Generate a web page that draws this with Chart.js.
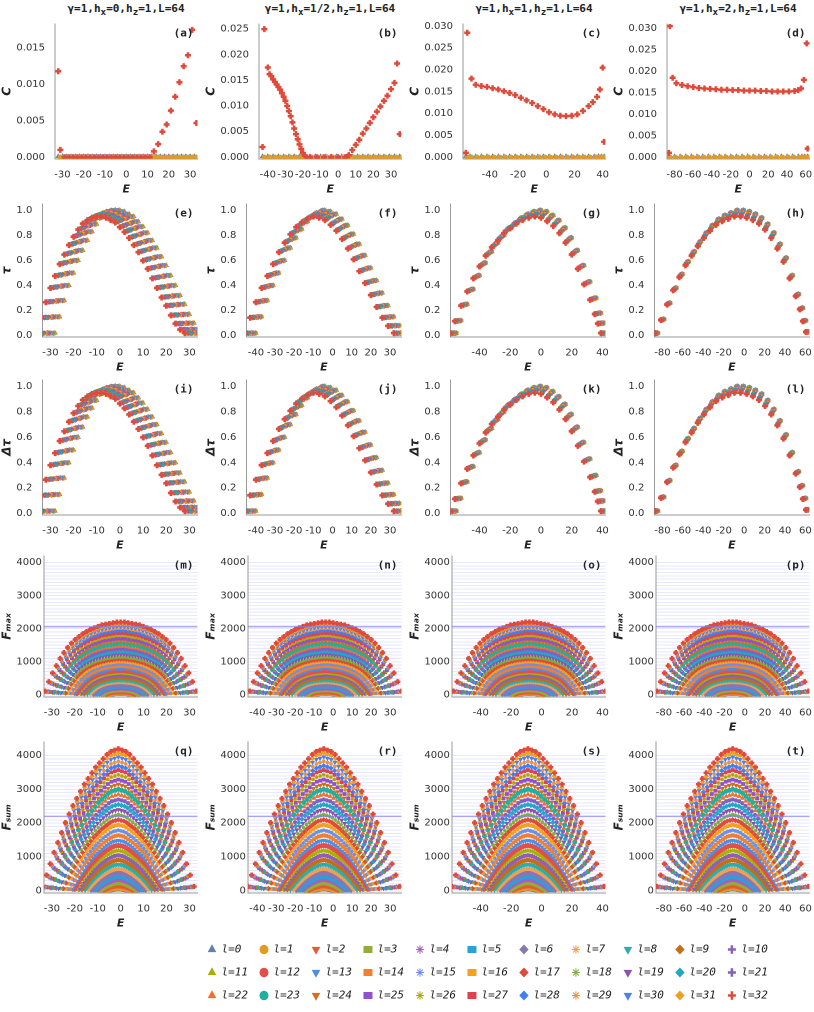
<!DOCTYPE html>
<html><head><meta charset="utf-8">
<script src="https://cdn.jsdelivr.net/npm/chart.js@4"></script>
<style>
body{margin:0;background:#fff;width:814px;height:1012px;position:relative;overflow:hidden;font-family:"DejaVu Sans",sans-serif}
canvas{position:absolute}
.ttl{position:absolute;top:2px;width:204px;text-align:center;font:bold 11px "DejaVu Sans Mono",monospace;color:#222}
</style></head><body>
<div class="ttl" style="left:24px">γ=1,h<sub>x</sub>=0,h<sub>z</sub>=1,L=64</div>
<div class="ttl" style="left:228px">γ=1,h<sub>x</sub>=1/2,h<sub>z</sub>=1,L=64</div>
<div class="ttl" style="left:432px">γ=1,h<sub>x</sub>=1,h<sub>z</sub>=1,L=64</div>
<div class="ttl" style="left:636px">γ=1,h<sub>x</sub>=2,h<sub>z</sub>=1,L=64</div>
<script>
// series labels and marker look
const lLabels = Array.from({length: 33}, (_, i) => "l=" + i);
const colors = ["#5E81B5","#E19C24","#E8583A","#8FB032","#A55FC0","#2E9FD8","#8778B3","#F0A050","#2AAFB0","#C56E1A","#8E5FB8",
  "#A8B000","#E0504A","#4A8FE8","#F08030","#6B8FE8","#F4A020","#E04A3A","#7CB040","#9050B0","#20A8C8","#8060C0",
  "#F07030","#20B0A0","#D07020","#9050D0","#B0A800","#E04050","#4080F0","#F09040","#5080F0","#F0A020","#E04A3A"];
const shapes = ["triangle","circle","triangle","rect","star","rect","rectRot","star","triangle","rectRot","cross"];
const rotations = [0,0,180,0,0,0,0,0,180,0,0];

// axes per column
const xMin = [-33.5, -45, -59, -88];
const xMax = [33.5, 36, 42, 64];
const xStep = [10, 10, 20, 20];
const cMax = [0.0183, 0.026, 0.0305, 0.031];
const panelNames = "abcdefghijklmnopqrst".split("");

// correlation C: red series (l=32)
const cRedE = [
  [-32,-31,-29,-27,-25,-23,-21,-19,-17,-15,-13,-11,-9,-7,-5,-3,-1,1,3,5,7,9,11,13,15,17,19,21,23,25,27,29,31,33],
  [-43,-42,-40,-39,-38,-37,-36,-35,-34,-33,-32,-31,-30,-29,-28,-27,-26,-25,-24,-23,-22,-21,-20,-19,-18,-16,-12,-8,-4,0,4,6,8,10,12,14,16,18,20,22,24,26,28,30,32,33.5,35],
  [-57,-56,-53,-50,-46,-42,-38,-34,-30,-26,-22,-18,-14,-10,-6,-2,2,6,10,14,18,22,26,30,33,36,38,40,41],
  [-86,-85,-82,-78,-72,-66,-60,-54,-48,-42,-36,-30,-24,-18,-12,-6,0,6,12,18,24,30,36,42,48,52,55,58,61,62]
];
const cRedV = [
  [0.0118,0.001,0,0,0,0,0,0,0,0,0,0,0,0,0,0,0,0,0,0,0,0,0,0.0008,0.0018,0.0035,0.0045,0.0064,0.0083,0.0103,0.0125,0.014,0.0175,0.0047],
  [0.002,0.025,0.0175,0.0162,0.0158,0.0152,0.0147,0.0142,0.0137,0.0132,0.0125,0.0118,0.011,0.01,0.009,0.008,0.0068,0.0056,0.0045,0.0035,0.0025,0.0016,0.0008,0.0003,0,0,0,0,0,0,0,0.0004,0.0014,0.0024,0.0034,0.0046,0.0056,0.0067,0.0078,0.0089,0.0099,0.011,0.012,0.0133,0.0145,0.0183,0.0045],
  [0.001,0.0285,0.018,0.0166,0.0163,0.0161,0.0158,0.0155,0.0151,0.0147,0.0142,0.0136,0.013,0.0124,0.0117,0.011,0.0103,0.0098,0.0095,0.0094,0.0095,0.0098,0.0106,0.0117,0.0126,0.0138,0.0155,0.0205,0.0035],
  [0.001,0.0305,0.0185,0.0172,0.0168,0.0165,0.0163,0.0161,0.016,0.0159,0.0158,0.0157,0.0157,0.0156,0.0156,0.0155,0.0155,0.0155,0.0154,0.0154,0.0153,0.0153,0.0153,0.0153,0.0154,0.0156,0.016,0.018,0.0265,0.002]
];

// tau base curves per column
const tauE = [
  [-32,-30,-28,-26,-24,-22,-20,-18,-16,-14,-12,-10,-8,-6,-4,-2,0,2,4,6,8,10,12,14,16,18,20,22,24,26,28,30,32],
  [-43,-40,-37,-34,-31,-28,-25,-22,-19,-16,-13,-10,-7,-4,-1,2,5,8,11,14,17,20,23,26,29,32,35],
  [-57,-54,-50,-46,-42,-38,-34,-30,-26,-22,-18,-14,-10,-6,-2,2,6,10,14,18,22,26,30,34,37,39,41],
  [-86,-80,-74,-68,-62,-56,-50,-44,-38,-32,-26,-20,-14,-8,-2,4,10,16,22,28,34,40,46,52,56,59,62]
];
const tauV = [
  [0.02,0.15,0.28,0.4,0.5,0.6,0.68,0.76,0.83,0.89,0.94,0.97,0.99,1.0,1.0,0.99,0.97,0.95,0.91,0.87,0.82,0.76,0.7,0.63,0.56,0.48,0.4,0.32,0.25,0.17,0.1,0.05,0.02],
  [0.02,0.15,0.28,0.4,0.5,0.6,0.7,0.78,0.85,0.91,0.95,0.98,1.0,0.99,0.97,0.93,0.88,0.81,0.73,0.64,0.54,0.44,0.34,0.24,0.15,0.08,0.02],
  [0.02,0.12,0.25,0.37,0.48,0.58,0.67,0.74,0.8,0.86,0.9,0.94,0.97,0.99,1.0,0.99,0.96,0.92,0.86,0.78,0.68,0.56,0.43,0.3,0.18,0.1,0.02],
  [0.02,0.13,0.26,0.38,0.49,0.59,0.67,0.75,0.82,0.88,0.93,0.96,0.98,1.0,1.0,0.99,0.97,0.94,0.89,0.82,0.73,0.62,0.48,0.33,0.22,0.12,0.03]
];
const tauSpread = [4, 3, 2, 1.5];
const tauShift = [1,0.9,0.8,0.75,0.7,0.6,0.55,0.5,0.4,0.35,0.3,0.2,0.15,0.1,0,-0.05,-0.1,-0.2,-0.25,-0.3,-0.4,-0.45,-0.5,-0.6,-0.65,-0.7,-0.75,-0.8,-0.85,-0.9,-0.92,-0.95,-1];
const tauScale = [1,1,1,1,1,1,1,0.995,0.995,0.99,0.99,0.99,0.985,0.985,0.98,0.98,0.98,0.975,0.975,0.97,0.97,0.97,0.965,0.965,0.96,0.96,0.96,0.955,0.955,0.95,0.95,0.95,0.95];

// F arches: shared u grid, shapes, per-l peak heights and widths
const archU = [-1,-0.95,-0.9,-0.85,-0.8,-0.75,-0.7,-0.65,-0.6,-0.55,-0.5,-0.45,-0.4,-0.35,-0.3,-0.25,-0.2,-0.15,-0.1,-0.05,0,
  0.05,0.1,0.15,0.2,0.25,0.3,0.35,0.4,0.45,0.5,0.55,0.6,0.65,0.7,0.75,0.8,0.85,0.9,0.95,1];
const fmaxShape = [0.05,0.18,0.3,0.4,0.5,0.58,0.65,0.71,0.76,0.8,0.84,0.87,0.9,0.92,0.94,0.96,0.97,0.98,0.99,1.0,1.0,
  1.0,0.99,0.98,0.97,0.96,0.94,0.92,0.9,0.87,0.84,0.8,0.76,0.71,0.65,0.58,0.5,0.4,0.3,0.18,0.05];
const fsumShape = [0.03,0.11,0.19,0.27,0.34,0.41,0.48,0.54,0.6,0.65,0.7,0.75,0.79,0.83,0.87,0.9,0.93,0.96,0.98,0.99,1.0,
  0.99,0.98,0.96,0.93,0.9,0.87,0.83,0.79,0.75,0.7,0.65,0.6,0.54,0.48,0.41,0.34,0.27,0.19,0.11,0.03];
const fmaxPeak = [20,50,90,140,190,250,310,380,450,520,590,660,730,800,870,940,1010,1080,1150,1230,1310,1390,1470,1550,1630,1710,1790,1870,1950,2020,2080,2140,2200];
const fsumPeak = [30,80,150,230,320,420,530,650,780,910,1050,1190,1340,1490,1640,1790,1950,2100,2250,2400,2550,2700,2850,3000,3150,3290,3430,3570,3700,3830,3960,4080,4200];
const archWidth = [0.12,0.16,0.2,0.24,0.28,0.32,0.36,0.4,0.44,0.48,0.52,0.55,0.58,0.61,0.64,0.67,0.7,0.73,0.76,0.79,0.82,0.84,0.86,0.88,0.9,0.92,0.94,0.95,0.96,0.97,0.98,0.99,1.0];
const fmaxCenter = [0, -4, -8, -12];
const fsumCenter = [-1, -5, -9, -12];
const archHalf = [33, 40, 50, 75];
const fmaxLine = 2060, fsumLine = 2200;

// layout
const colLeft = [0, 204, 408, 612];
const rowTop = [16, 196, 372, 548, 734];
const rowH = [180, 178, 180, 186, 196];
const yTitles = ["C", "τ", "Δτ", "Fₘₐₓ", "Fₛᵤₘ"];

function ds(l, data, r) {
  return {
    label: lLabels[l], data: data, showLine: false, order: 32 - l,
    pointStyle: shapes[l % 11], rotation: rotations[l % 11],
    pointRadius: r || (l === 32 ? 3 : 2.2), borderWidth: l % 11 === 10 ? 2.5 : 1,
    backgroundColor: colors[l], borderColor: colors[l]
  };
}

const panelLabel = {
  id: "panelLabel",
  afterDraw(chart, args, opts) {
    const a = chart.chartArea, ctx = chart.ctx;
    ctx.save();
    if (opts.line != null) {
      const y = chart.scales.y.getPixelForValue(opts.line);
      ctx.strokeStyle = "rgba(120,120,255,0.6)"; ctx.lineWidth = 1.5;
      ctx.beginPath(); ctx.moveTo(a.left, y); ctx.lineTo(a.right, y); ctx.stroke();
    }
    ctx.font = "bold 11px 'DejaVu Sans Mono'"; ctx.fillStyle = "#222";
    ctx.textAlign = "right"; ctx.textBaseline = "top";
    ctx.fillText("(" + opts.text + ")", a.right - 4, a.top + 4);
    ctx.restore();
  }
};

function stepTicks(lo, hi, step) {
  return ax => { ax.ticks = []; for (let v = Math.ceil(lo / step - 1e-9) * step; v <= hi + 1e-9; v += step) ax.ticks.push({value: v}); };
}

function makePanel(row, col) {
  const cv = document.createElement("canvas");
  cv.width = 204; cv.height = rowH[row];
  cv.style.left = colLeft[col] + "px"; cv.style.top = rowTop[row] + "px";
  document.body.appendChild(cv);
  const datasets = [];
  let yOpts, line = null;
  if (row === 0) {
    datasets.push(ds(0, tauE[col].map(e => ({x: e, y: cMax[col] * 0.006}))));
    datasets.push(ds(1, tauE[col].map(e => ({x: e + 1, y: 0}))));
    datasets.push(ds(32, cRedE[col].map((e, i) => ({x: e, y: cRedV[col][i]}))));
    yOpts = {min: -cMax[col] * 0.012, max: cMax[col], afterBuildTicks: stepTicks(0, cMax[col], 0.005),
      ticks: {callback: v => Math.abs(v).toFixed(3)}};
  } else if (row === 1 || row === 2) {
    for (let l = 0; l < 33; l++) {
      const sh = tauShift[l] * tauSpread[col];
      datasets.push(ds(l, tauE[col].map((e, i) => ({x: e + sh, y: tauV[col][i] * tauScale[l]}))));
    }
    yOpts = {min: -0.01, max: 1.05, afterBuildTicks: stepTicks(0, 1.0, 0.2), ticks: {callback: v => Math.abs(v).toFixed(1)}};
  } else {
    const isMax = row === 3;
    const peak = isMax ? fmaxPeak : fsumPeak;
    const shape = isMax ? fmaxShape : fsumShape;
    const cen = isMax ? fmaxCenter[col] : fsumCenter[col];
    for (let l = 0; l < 33; l++) {
      datasets.push(ds(l, archU.map((u, i) => ({x: cen + u * archHalf[col] * archWidth[l], y: peak[l] * shape[i]})), l === 32 ? 2.6 : 2));
    }
    line = isMax ? fmaxLine : fsumLine;
    yOpts = {min: -60, max: isMax ? 4200 : 4400,
      afterBuildTicks: stepTicks(0, 4000, 100),
      ticks: {autoSkip: false, callback: v => Math.round(v) % 1000 === 0 ? Math.round(v) : ""},
      grid: {display: true, color: "rgba(150,150,255,0.22)", drawTicks: false}};
  }
  new Chart(cv, {
    type: "scatter",
    data: {datasets},
    plugins: [panelLabel],
    options: {
      responsive: false, animation: false, devicePixelRatio: 2,
      layout: {padding: {right: 4, top: 4}},
      plugins: {legend: {display: false}, tooltip: {enabled: false},
        panelLabel: {text: panelNames[row * 4 + col], line: line}},
      scales: {
        x: {min: xMin[col], max: xMax[col], border: {color: "#999"},
          grid: {display: false},
          afterBuildTicks: stepTicks(xMin[col], xMax[col], xStep[col]),
          ticks: {color: "#333", font: {size: 10, family: "DejaVu Sans"}, maxRotation: 0, padding: 2},
          title: {display: true, text: "E", color: "#222", padding: 0, font: {size: 11, weight: "bold", style: "italic", family: "DejaVu Sans"}}},
        y: Object.assign({border: {color: "#999"}, grid: {display: false},
          title: {display: true, text: yTitles[row], color: "#222", padding: 0, font: {size: 12, weight: "bold", style: "italic", family: "DejaVu Sans"}}},
          yOpts, {ticks: Object.assign({color: "#333", font: {size: 10, family: "DejaVu Sans"}, padding: 2}, yOpts.ticks)})
      }
    }
  });
}

for (let r = 0; r < 5; r++) for (let c = 0; c < 4; c++) makePanel(r, c);

// legend
const lg = document.createElement("canvas");
lg.width = 600; lg.height = 96;
lg.style.left = "196px"; lg.style.top = "932px";
document.body.appendChild(lg);
new Chart(lg, {
  type: "scatter",
  data: {datasets: lLabels.map((_, l) => Object.assign(ds(l, []), {order: 0}))},
  options: {
    responsive: false, animation: false, devicePixelRatio: 2,
    layout: {padding: 0},
    scales: {x: {display: false}, y: {display: false}},
    plugins: {tooltip: {enabled: false},
      legend: {display: true, position: "top", align: "start", maxHeight: 96,
        labels: {usePointStyle: true, pointStyleWidth: 8, boxHeight: 6, padding: 12, color: "#222",
          font: {size: 11, family: "DejaVu Sans Mono", style: "italic"},
          generateLabels: ch => Chart.defaults.plugins.legend.labels.generateLabels(ch)
            .map(it => Object.assign(it, {text: it.text.padEnd(4, "\u00a0")}))}}}
  }
});
</script>
</body></html>
